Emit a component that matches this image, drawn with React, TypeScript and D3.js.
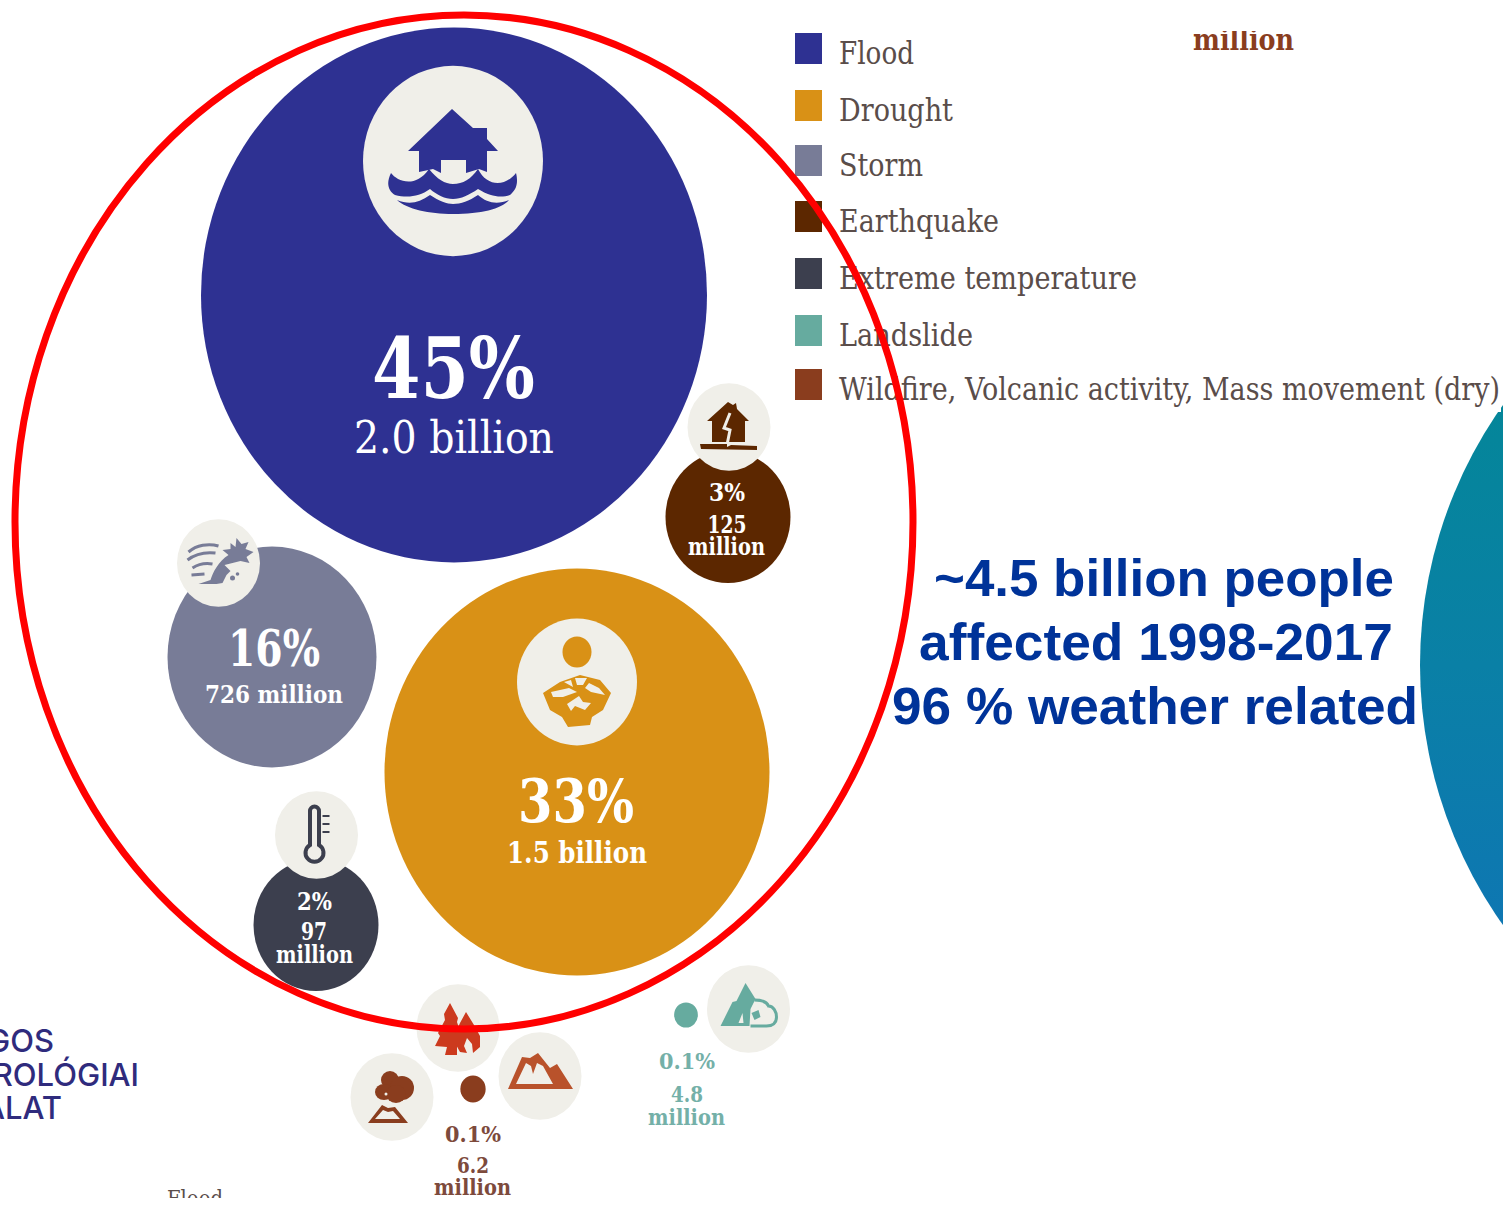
import React from 'react';
import * as d3 from 'd3';

// hazard data
const categories = ['Flood', 'Drought', 'Storm', 'Earthquake', 'Extreme temperature', 'Landslide', 'Wildfire'];
const legendLabels = ['Flood', 'Drought', 'Storm', 'Earthquake', 'Extreme temperature', 'Landslide', 'Wildfire, Volcanic activity, Mass movement (dry)'];
const shares = ['45%', '33%', '16%', '3%', '2%', '0.1%', '0.1%'];
const people = [2000, 1500, 726, 125, 97, 4.8, 6.2];
const peopleLabels = ['2.0 billion', '1.5 billion', '726 million', '125', '97', '4.8', '6.2'];
const headline = ['~4.5 billion people', 'affected 1998-2017', '96 % weather related'];
const logoLines = ['GOS', 'ROLÓGIAI', 'ÁLAT'];

const WIDTH = 1503;
const HEIGHT = 1205;
const SERIF = '"DejaVu Serif", "Liberation Serif", serif';
const SANS = '"Liberation Sans", Arial, sans-serif';
const PAPER = '#f0efe9';

const color = d3.scaleOrdinal<string, string>()
  .domain(categories)
  .range(['#2e3192', '#d99116', '#787c97', '#5c2700', '#3c3f4e', '#66ab9f', '#8a3d1e']);

// the original bubbles are not strictly area scaled, so piecewise
const radius = d3.scaleLinear().domain([5, 97, 125, 726, 1500, 2000]).range([12, 62.5, 62.5, 104.5, 192.5, 253]);
const stretchY = 1.057;

const centerX = d3.scaleOrdinal<string, number>().domain(categories).range([454, 577, 272, 728, 316, 686, 473]);
const centerY = d3.scaleOrdinal<string, number>().domain(categories).range([295, 772, 657, 517, 925, 1015, 1089]);
const swatchTop = d3.scaleOrdinal<string, number>().domain(categories).range([33, 90, 145, 201, 258, 315, 369]);
const legendWidth = d3.scaleOrdinal<string, number>().domain(categories).range([75, 114, 84, 160, 298, 134, 661]);

const Bubble = ({ i }: { i: number }) => {
  const name = categories[i];
  const r = radius(people[i]);
  return <ellipse cx={centerX(name)} cy={centerY(name)} rx={r} ry={r * stretchY} fill={color(name)} />;
};

const Icon = ({ x, y, r = 41.5, children }: { x: number; y: number; r?: number; children?: React.ReactNode }) => (
  <g transform={`translate(${x},${y})`}>
    <ellipse rx={r} ry={r * stretchY} fill={PAPER} />
    {children}
  </g>
);

// width is forced so the stretched look of the source carries over
const Label = ({ x, y, text, size, w, fill = '#fff', weight = 700 }: { x: number; y: number; text: string; size: number; w: number; fill?: string; weight?: number }) => (
  <text x={x - w / 2} y={y} textLength={w} lengthAdjust="spacingAndGlyphs" fontFamily={SERIF} fontSize={size} fontWeight={weight} fill={fill}>
    {text}
  </text>
);

export default function App() {
  const flood = color('Flood');
  const drought = color('Drought');
  const storm = color('Storm');
  const quake = color('Earthquake');
  const cold = color('Extreme temperature');
  const slide = color('Landslide');
  const fire = color('Wildfire');
  const textBrown = '#7d4a3c';
  const textTeal = '#74b0a8';

  return (
    <svg width={WIDTH} height={HEIGHT} style={{ position: 'absolute', left: 0, top: 0, background: '#fff' }}>
      <defs>
        <linearGradient id="globe" x1="0" y1="0" x2="0" y2="1">
          <stop offset="0" stopColor="#008a90" />
          <stop offset="0.5" stopColor="#0a80a6" />
          <stop offset="1" stopColor="#1170bb" />
        </linearGradient>
      </defs>

      <ellipse cx={1869} cy={665} rx={449} ry={449} fill="url(#globe)" />
      <rect x={1395} y={370} width={106} height={42} fill="#fff" />

      {categories.map((c, i) => <Bubble key={c} i={i} />)}

      {/* flood */}
      <Icon x={453} y={161} r={90}>
        <path d="M-1,-52 L20,-33 L34,-33 L34,-22 L45,-10 L34,-10 L34,11 L26,8 L13,12 L13,-1 L-12,-1 L-12,12 L-20,8 L-34,11 L-34,-10 L-45,-10 Z" fill={flood} />
        <path d="M-62,12 C-56,20 -38,28 -24,8 C-16,18 -8,23 0,23 C10,23 18,18 25,8 C34,26 52,26 63,12 C66,24 62,30 57,34 C48,37 38,36 25,28 C16,34 8,38 0,38 C-8,38 -16,34 -23,28 C-34,36 -46,37 -58,34 C-65,30 -67,22 -62,12 Z" fill={flood} />
        <path d="M-56,39 C-44,44 -34,42 -23,34 C-14,40 -6,43 0,43 C8,43 16,40 25,34 C34,42 44,44 56,39 C48,48 28,53 0,53 C-24,53 -46,48 -56,39 Z" fill={flood} />
      </Icon>

      {/* earthquake */}
      <Icon x={729} y={427}>
        <path d="M-1,-25 L4,-22 L7,-24 L8,-18 L20,-6 L16,-6 L16,15 L-17,15 L-17,-6 L-22,-6 Z" fill={quake} />
        <path d="M1,-14 L-5,1 L1,3 L-2,18" fill="none" stroke={PAPER} strokeWidth={3} />
        <path d="M-29,17 L-2,17 L-2,20 L2,18 L28,19 L28,23 L-28,22 Z" fill={quake} />
      </Icon>

      {/* storm */}
      <Icon x={218.5} y={563}>
        <path d="M-30,-11 C-22,-18 -10,-20 0,-17 M-31,-3 C-22,-10 -12,-11 -3,-10 M-26,5 C-20,1 -12,0 -6,1 M-27,12 L-14,11" fill="none" stroke={storm} strokeWidth={3} />
        <path d="M-20,21 L-8,17 C-6,10 0,-2 10,-8 L4,-13 L12,-14 L12,-20 L17,-16 L18,-25 L23,-19 L30,-21 L27,-14 L35,-11 L28,-6 L31,0 L22,-2 L14,0 L6,2 L12,8 L8,12 L6,16 L4,20 L-2,21 Z" fill={storm} />
        <circle cx={14} cy={15} r={2.5} fill={storm} />
        <circle cx={19} cy={11} r={1.8} fill={storm} />
      </Icon>

      {/* thermometer */}
      <Icon x={316.5} y={835}>
        <path d="M-6.5,-24 a4.5,4.5 0 0 1 9,0 V10 a9,9 0 1 1 -9,0 Z" fill="none" stroke={cold} strokeWidth={4} />
        <path d="M6,-19 H13 M6,-11 H13 M6,-3 H13" stroke={cold} strokeWidth={2} />
      </Icon>

      {/* drought */}
      <Icon x={577} y={682} r={60}>
        <ellipse cx={0} cy={-30} rx={14.5} ry={15.5} fill={drought} />
        <path d="M-34,11 L-17,0 L3,-7 L23,-2 L34,11 L26,28 L15,35 L13,43 L-9,45 L-15,35 L-27,28 Z" fill={drought} />
        <path d="M-26,10 L-8,6 L0,10 L-14,15 L-24,15 Z M-13,0 L-6,-2 L-4,5 Z M-2,-4 L10,-4 L6,3 L0,3 Z M12,1 L22,6 L28,13 L14,10 L8,6 Z M-10,22 L2,14 L6,20 L14,21 L8,28 L-2,24 L-6,29 Z" fill={PAPER} />
      </Icon>

      {/* wildfire */}
      <Icon x={458} y={1028}>
        <path d="M-8,-25 L0,-10 L-1,-6 L2,3 L-1,10 L-1,27 L-13,27 L-11,19 L-23,18 L-18,8 L-20,5 L-13,-8 L-14,-14 Z" fill="#cc3a1e" />
        <path d="M8,-16 L16,-3 L22,8 L22,19 L15,25 L14,16 L9,10 L6,18 L9,25 L2,24 L-3,15 L-3,6 L2,-5 Z" fill="#cc3a1e" />
      </Icon>

      {/* mass movement */}
      <Icon x={540} y={1076}>
        <path d="M-32,13 L-18,-19 L-10,-18 L-2,-23 L10,-8 L17,-12 L33,13 Z M-24,8 L13,8 L3,-10 L-3,-13 L-7,-2 L-9,-10 L-14,-13 Z" fill="#b9522b" fillRule="evenodd" />
      </Icon>

      {/* volcano */}
      <Icon x={392} y={1097}>
        <ellipse cx={-2} cy={-17} rx={9} ry={9} fill={fire} />
        <ellipse cx={10} cy={-9} rx={12} ry={12} fill={fire} />
        <ellipse cx={-8} cy={-5} rx={9} ry={8} fill={fire} />
        <ellipse cx={4} cy={-3} rx={10} ry={9} fill={fire} />
        <circle cx={-6} cy={-3} r={1.5} fill={PAPER} />
        <path d="M-24,26 L-10,8 L-4,11 L3,10 L16,26 Z M-17,22 L8,22 L1,14 L-4,15 L-9,13 Z" fill={fire} fillRule="evenodd" />
      </Icon>

      {/* landslide */}
      <Icon x={748.5} y={1009}>
        <path d="M-28,17 L-16,-7 L-12,-8 L-3,-26 L7,-10 L2,0 L1,17 Z M-10,14 L-6,4 L-5,14 Z" fill={slide} fillRule="evenodd" />
        <path d="M6,-9 C12,-9 18,-8 20,-3 C25,-3 28,3 28,8 C28,14 24,17 18,17 L2,17" fill="none" stroke={slide} strokeWidth={3} />
        <path d="M3,4 L10,1 L12,8 L6,11 Z" fill={slide} />
      </Icon>

      {/* bubble labels */}
      <Label x={453.5} y={398} text={shares[0]} size={84} w={163} />
      <Label x={454} y={453} text={peopleLabels[0]} size={44} w={200} weight={400} />
      <Label x={576} y={822} text={shares[1]} size={60} w={116} />
      <Label x={577} y={863} text={peopleLabels[1]} size={30} w={140} />
      <Label x={274} y={666} text={shares[2]} size={51} w={92} />
      <Label x={274} y={703} text={peopleLabels[2]} size={25} w={138} />
      <Label x={727} y={501} text={shares[3]} size={24} w={36} />
      <Label x={727} y={533} text={peopleLabels[3]} size={24} w={39} />
      <Label x={726.5} y={555} text="million" size={24} w={77} />
      <Label x={314.5} y={910} text={shares[4]} size={24} w={35} />
      <Label x={314} y={940} text={peopleLabels[4]} size={24} w={26} />
      <Label x={314.5} y={963} text="million" size={24} w={77} />
      <Label x={687} y={1069} text={shares[5]} size={23} w={56} fill={textTeal} />
      <Label x={687} y={1102} text={peopleLabels[5]} size={23} w={32} fill={textTeal} />
      <Label x={686.5} y={1125} text="million" size={23} w={77} fill={textTeal} />
      <Label x={473} y={1142} text={shares[6]} size={23} w={56} fill={textBrown} />
      <Label x={473} y={1173} text={peopleLabels[6]} size={23} w={32} fill={textBrown} />
      <Label x={472.5} y={1195} text="million" size={23} w={77} fill={textBrown} />

      {/* cut off bits of the source slide */}
      <Label x={1243.5} y={50} text="million" size={30} w={101} fill={fire} />
      <rect x={1180} y={18} width={130} height={13} fill="#fff" />
      <Label x={195} y={1206} text="Flood" size={23} w={56} fill="#5a4d4a" weight={400} />
      <rect x={0} y={1198} width={WIDTH} height={7} fill="#fff" />

      {logoLines.map((line, i) => (
        <text key={line} x={[54, 139, 62][i]} y={[1052, 1086, 1119][i]} textAnchor="end" fontFamily="Inter, sans-serif" fontSize={31} fontWeight={500} fill="#2f2b7d">
          {line}
        </text>
      ))}

      {/* legend */}
      {categories.map((c, i) => (
        <g key={c}>
          <rect x={795} y={swatchTop(c)} width={27} height={31} fill={color(c)} />
          <text x={839} y={swatchTop(c) + 31} textLength={legendWidth(c)} lengthAdjust="spacingAndGlyphs" fontFamily={SERIF} fontSize={31} fill="#5a4d4a">
            {legendLabels[i]}
          </text>
        </g>
      ))}

      {headline.map((line, i) => (
        <text key={line} x={[934, 919, 892][i]} y={[596, 660, 724][i]} textLength={[460, 474, 526][i]} lengthAdjust="spacingAndGlyphs" fontFamily={SANS} fontSize={52} fontWeight={700} fill="#003399">
          {line}
        </text>
      ))}

      <ellipse cx={464} cy={522} rx={449} ry={507} fill="none" stroke="#ff0000" strokeWidth={7} />
    </svg>
  );
}
